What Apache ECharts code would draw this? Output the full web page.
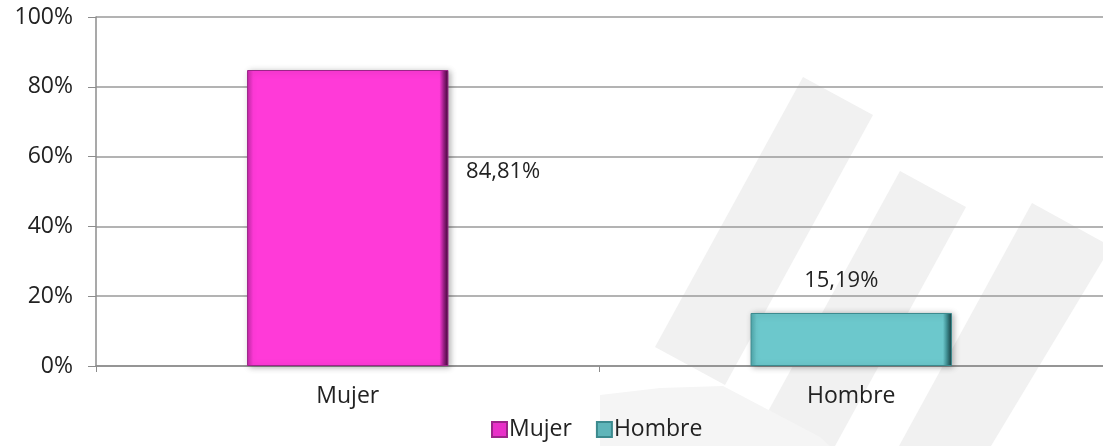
<!DOCTYPE html>
<html>
<head>
<meta charset="utf-8">
<script src="https://cdn.jsdelivr.net/npm/echarts@6/dist/echarts.min.js"></script>
<style>
html,body{margin:0;padding:0;background:#fff;}
#chart{width:1103px;height:446px;}
</style>
</head>
<body>
<div id="chart"></div>
<script>
const categories = ['Mujer', 'Hombre'];
const values = [84.81, 15.19];
const valueLabels = ['84,81%', '15,19%'];
const yTicks = [0, 20, 40, 60, 80, 100];

const FONT = '"Open Sans", Lato, sans-serif';

function grad(dark, base, mid, edge) {
  return {
    type: 'linear', x: 0, y: 0, x2: 1, y2: 0,
    colorStops: [
      {offset: 0, color: dark},
      {offset: 0.03, color: base},
      {offset: 0.955, color: base},
      {offset: 0.975, color: mid},
      {offset: 1, color: edge}
    ]
  };
}
const colors = [
  grad('#c42aa8', '#ff3ad8', '#a0208a', '#3a0832'),
  grad('#4fa7ab', '#6cc8cc', '#3f8e92', '#163a3c')
];
const legendColors = ['#e830c8', '#5fb5b9'];

const chart = echarts.init(document.getElementById('chart'));
const wm = '#f1f1f1';
chart.setOption({
  animation: false,
  backgroundColor: '#fff',
  graphic: [
    {type: 'polygon', z: -10, shape: {points: [[803,77],[873,115],[725,385],[655,347]]}, style: {fill: wm}},
    {type: 'polygon', z: -10, shape: {points: [[900,171],[966,207],[835,446],[749,446]]}, style: {fill: wm}},
    {type: 'polygon', z: -10, shape: {points: [[1032,203],[1103,242],[1103,260],[991,446],[899,446]]}, style: {fill: wm}},
    {type: 'polygon', z: -10, shape: {points: [[600,395],[660,388],[723,386],[820,437],[830,446],[600,446]]}, style: {fill: '#f5f5f5'}}
  ],
  grid: {left: 96, right: 0, top: 17, bottom: 80, containLabel: false},
  legend: {
    data: categories.map((c, i) => ({name: c, itemStyle: {color: legendColors[i]}})),
    bottom: 0, left: 486,
    icon: 'rect', itemWidth: 15, itemHeight: 15, itemGap: 24,
    textStyle: {fontFamily: FONT, fontSize: 23, color: '#222', padding: [0,0,0,-3]}
  },
  xAxis: {
    type: 'category',
    data: categories,
    axisLine: {lineStyle: {color: '#8c8c8c', width: 1.5}},
    axisTick: {show: true, length: 6, lineStyle: {color: '#8c8c8c'}},
    axisLabel: {fontFamily: FONT, fontSize: 23, color: '#222', margin: 19}
  },
  yAxis: {
    type: 'value', min: 0, max: 100, interval: 20,
    axisLine: {show: true, lineStyle: {color: '#8c8c8c', width: 1.5}},
    axisTick: {show: true, length: 8, lineStyle: {color: '#8c8c8c'}},
    splitLine: {lineStyle: {color: '#9a9a9a', width: 1.5}},
    axisLabel: {fontFamily: FONT, fontSize: 23, color: '#222', margin: 23,
      formatter: v => yTicks.includes(v) ? v + '%' : ''}
  },
  series: categories.map((c, i) => ({
    name: c,
    type: 'bar',
    stack: 'all',
    barWidth: '40%',
    data: categories.map((_, j) => j === i ? values[j] : null),
    itemStyle: {
      color: colors[i],
      borderColor: i === 0 ? '#9c2589' : '#3c8a8e',
      borderWidth: 1,
      shadowColor: 'rgba(0,0,0,0.3)', shadowBlur: 6, shadowOffsetX: 2, shadowOffsetY: 1
    },
    label: i === 0 ? {
      show: true, position: [219, 102], align: 'left', verticalAlign: 'middle',
      formatter: () => valueLabels[0],
      fontFamily: FONT, fontSize: 22, color: '#222'
    } : {
      show: true, position: 'top', distance: 21, offset: [-10, 0],
      formatter: () => valueLabels[1],
      fontFamily: FONT, fontSize: 22, color: '#222'
    }
  }))
});
</script>
</body>
</html>
